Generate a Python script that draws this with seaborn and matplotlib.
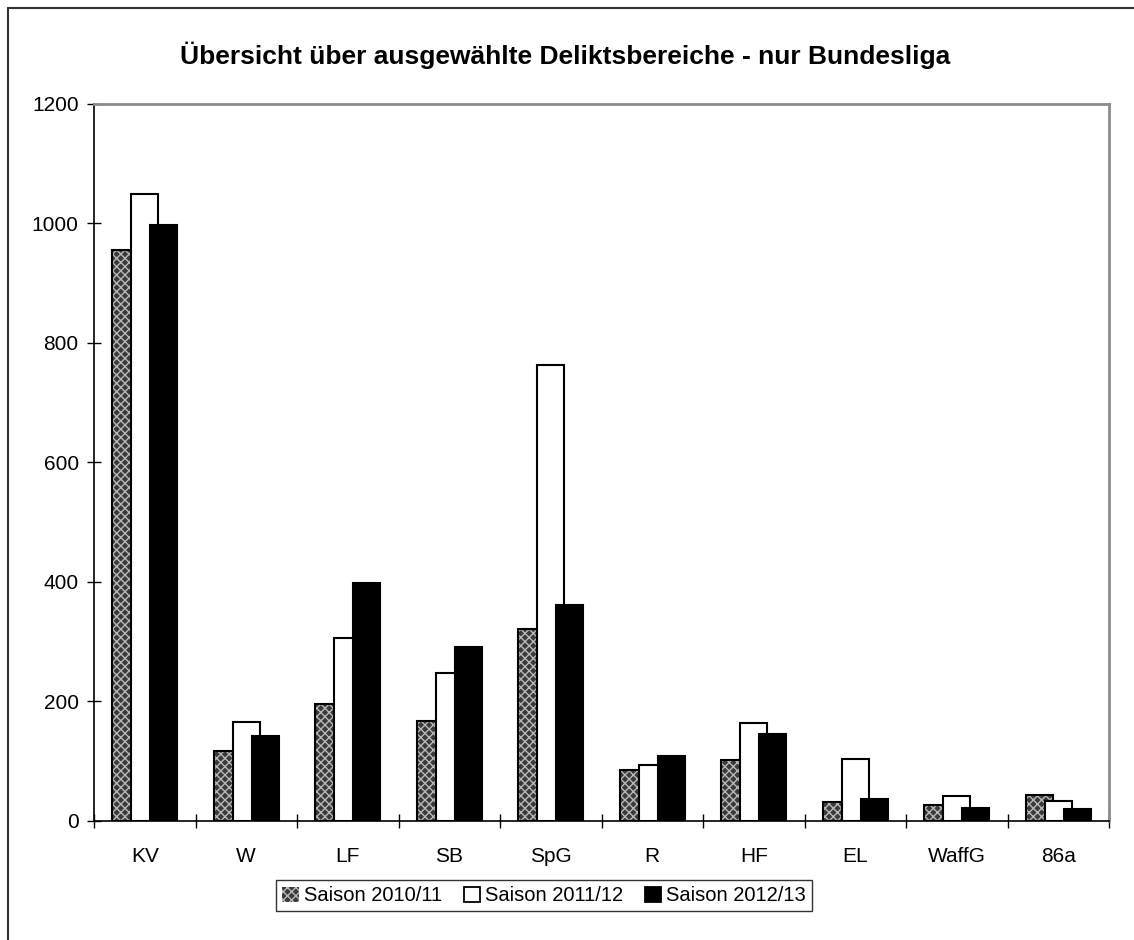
import pandas as pd
import seaborn as sns
import matplotlib.pyplot as plt
from matplotlib.patches import Patch, Rectangle
from matplotlib.lines import Line2D

# values
categories = ["KV", "W", "LF", "SB", "SpG", "R", "HF", "EL", "WaffG", "86a"]
seasons = ["Saison 2010/11", "Saison 2011/12", "Saison 2012/13"]
season_2010 = [955, 117, 195, 168, 321, 85, 102, 31, 26, 43]
season_2011 = [1049, 165, 306, 247, 763, 94, 164, 104, 41, 34]
season_2012 = [998, 143, 398, 292, 361, 109, 145, 37, 22, 20]

df = pd.DataFrame({
    "Delikt": categories * 3,
    "Saison": [s for s in seasons for _ in categories],
    "Anzahl": season_2010 + season_2011 + season_2012,
})

sns.set_theme(style="white")
plt.rcParams["font.family"] = ["Liberation Sans", "DejaVu Sans"]
plt.rcParams["text.color"] = "black"
plt.rcParams["xtick.color"] = "black"
plt.rcParams["ytick.color"] = "black"
plt.rcParams["hatch.linewidth"] = 1.0

fig = plt.figure(figsize=(11.34, 9.4), dpi=100)
ax = fig.add_axes([0.0829, 0.1266, 0.8951, 0.7628])

palette = {seasons[0]: "#3a3a3a", seasons[1]: "white", seasons[2]: "black"}
sns.barplot(data=df, x="Delikt", y="Anzahl", hue="Saison", hue_order=seasons,
            order=categories, palette=palette, width=0.561, dodge=True,
            legend=False, errorbar=None, edgecolor="black", linewidth=1.5,
            saturation=1, ax=ax)

# Excel-style overlapping bars: widen every bar around its own centre
bar_w = 0.266
n = len(categories)
for i, p in enumerate(ax.patches[:3 * n]):
    cx = p.get_x() + p.get_width() / 2
    p.set_x(cx - bar_w / 2)
    p.set_width(bar_w)
    if i < n:
        # patterned series: light hatch on dark fill, black outline on top
        p.set_hatch("xxxx")
        p.set_edgecolor("#b8b8b8")
        p.set_linewidth(0)
        ax.add_patch(Rectangle((p.get_x(), p.get_y()), p.get_width(), p.get_height(),
                               fill=False, edgecolor="black", linewidth=1.5,
                               zorder=p.get_zorder()))
# keep the outline of the hatched bars underneath the later series
for p in ax.patches[n:3 * n]:
    p.set_zorder(p.get_zorder() + 0.1)

ax.set_ylim(0, 1200)
ax.set_xlim(-0.5, n - 0.5)
ax.set_yticks(range(0, 1201, 200))
ax.tick_params(axis="y", direction="inout", length=10, width=1, color="black",
               labelsize=15, pad=6, left=True, labelcolor="black")
ax.set_xticks([i - 0.5 for i in range(n + 1)])
ax.set_xticklabels([])
ax.set_xticks(range(n), minor=True)
ax.set_xticklabels(categories, minor=True)
ax.tick_params(axis="x", which="major", direction="inout", length=10, width=1,
               color="black", bottom=True)
ax.tick_params(axis="x", which="minor", length=0, labelsize=15, pad=19,
               labelcolor="black")
ax.set_xlabel("")
ax.set_ylabel("")

for side in ["left", "bottom"]:
    ax.spines[side].set_color("black")
    ax.spines[side].set_linewidth(1.2)
for side in ["top", "right"]:
    ax.spines[side].set_color("#8c8c8c")
    ax.spines[side].set_linewidth(2)

fig.text(0.4985, 0.941, "Übersicht über ausgewählte Deliktsbereiche - nur Bundesliga",
         ha="center", va="center", fontsize=19, fontweight="bold", color="black")

handles = [
    Patch(facecolor="#3a3a3a", edgecolor="#b8b8b8", hatch="xxxx", linewidth=0),
    Patch(facecolor="white", edgecolor="black", linewidth=1.3),
    Patch(facecolor="black", edgecolor="black", linewidth=1.3),
]
leg = fig.legend(handles, seasons, loc="center", bbox_to_anchor=(0.48, 0.047),
                 ncol=3, frameon=True, fancybox=False, fontsize=14.5,
                 handlelength=0.8, handleheight=0.8, handletextpad=0.25,
                 columnspacing=1.1, borderpad=0.3, borderaxespad=0)
leg.get_frame().set_edgecolor("black")
leg.get_frame().set_linewidth(1)

# outer chart frame (only the top and left edges are inside the picture)
fig.add_artist(Line2D([0.007, 1.0], [0.991, 0.991], color="#333333", lw=1.5,
                      transform=fig.transFigure))
fig.add_artist(Line2D([0.007, 0.007], [0.0, 0.991], color="#333333", lw=1.5,
                      transform=fig.transFigure))

fig.savefig("out.png", dpi=100)
